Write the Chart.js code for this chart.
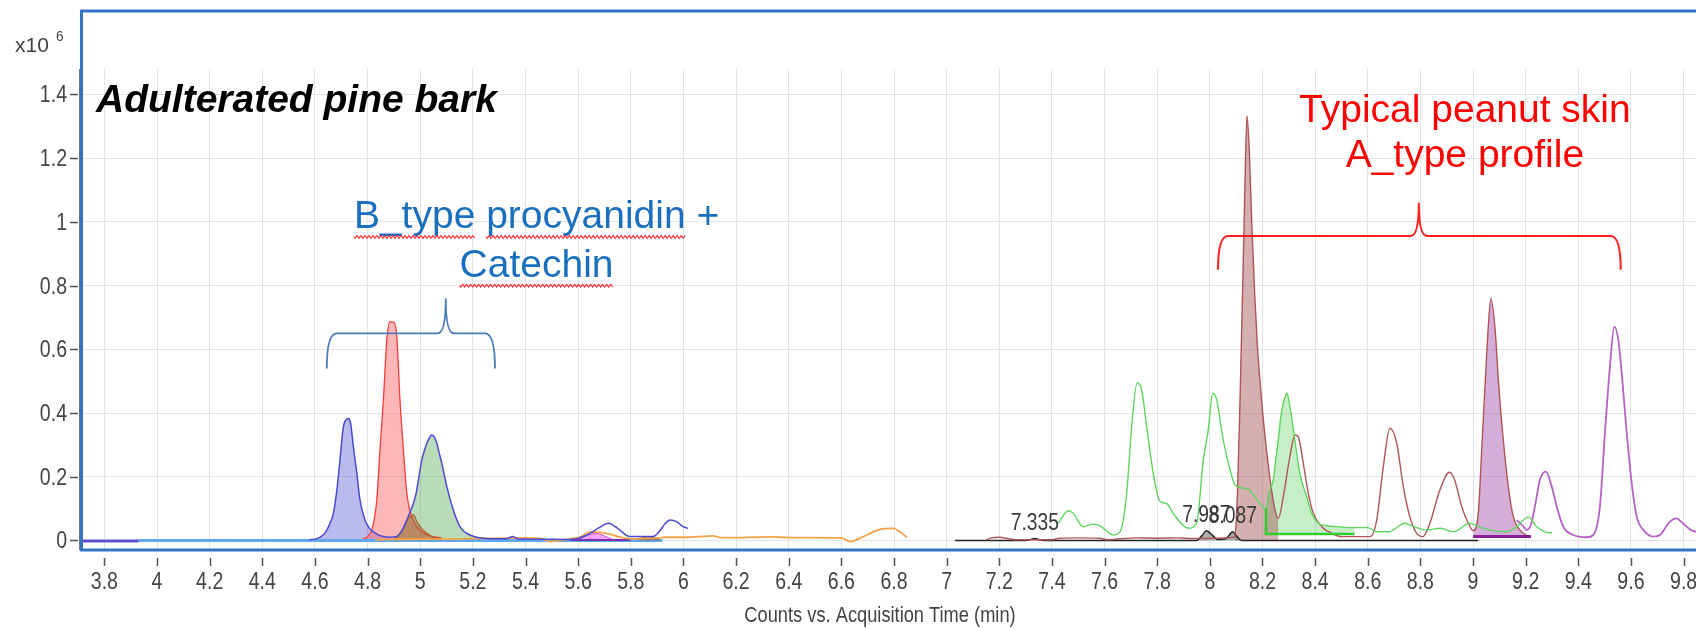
<!DOCTYPE html>
<html>
<head>
<meta charset="utf-8">
<title>Adulterated pine bark – chromatogram</title>
<script src="https://cdn.jsdelivr.net/npm/chart.js@4.4.1/dist/chart.umd.min.js"></script>
<style>
  html, body { margin: 0; padding: 0; background: #ffffff; overflow: hidden; }
  canvas { display: block; }
</style>
</head>
<body>
<canvas id="chrom" width="1696" height="629"></canvas>
<script>
// ---- axis ticks ----
const xTickValues = [3.8, 4, 4.2, 4.4, 4.6, 4.8, 5, 5.2, 5.4, 5.6, 5.8, 6, 6.2, 6.4, 6.6, 6.8, 7, 7.2, 7.4, 7.6, 7.8, 8, 8.2, 8.4, 8.6, 8.8, 9, 9.2, 9.4, 9.6, 9.8];
const xTickLabels = ['3.8', '4', '4.2', '4.4', '4.6', '4.8', '5', '5.2', '5.4', '5.6', '5.8', '6', '6.2', '6.4', '6.6', '6.8', '7', '7.2', '7.4', '7.6', '7.8', '8', '8.2', '8.4', '8.6', '8.8', '9', '9.2', '9.4', '9.6', '9.8'];
const yTickValues = [0, 0.2, 0.4, 0.6, 0.8, 1, 1.2, 1.4];
const yTickLabels = ['0', '0.2', '0.4', '0.6', '0.8', '1', '1.2', '1.4'];

// ---- traces: acquisition time (min) and counts (x10^6) ----
// early baselines
const baseDarkT = [3.707, 3.93];
const baseDarkY = [-0.002, -0.002];
const baseLightT = [3.93, 5.92];
const baseLightY = [0.0, 0.0];

// blue trace (two integrated peaks at 4.73 and 5.04, small bumps after)
const blueT = [4.58, 4.60, 4.62, 4.64, 4.655, 4.67, 4.685, 4.695, 4.708, 4.72, 4.727, 4.735, 4.746, 4.759, 4.771, 4.79, 4.81, 4.835, 4.86, 4.885, 4.911, 4.93, 4.949, 4.962, 4.974, 4.985, 4.993, 5.006, 5.015, 5.025, 5.035, 5.043, 5.053, 5.063, 5.072, 5.082, 5.101, 5.126, 5.151, 5.17, 5.189, 5.215, 5.24, 5.28, 5.33, 5.35, 5.37, 5.42, 5.48, 5.55, 5.6, 5.645, 5.68, 5.715, 5.75, 5.797, 5.84, 5.885, 5.91, 5.93, 5.949, 5.974, 5.999, 6.018];
const blueY = [0.002, 0.004, 0.01, 0.025, 0.05, 0.085, 0.17, 0.252, 0.357, 0.38, 0.383, 0.37, 0.294, 0.211, 0.127, 0.064, 0.035, 0.02, 0.012, 0.01, 0.012, 0.03, 0.064, 0.09, 0.116, 0.15, 0.19, 0.253, 0.28, 0.305, 0.322, 0.331, 0.325, 0.305, 0.275, 0.242, 0.169, 0.095, 0.043, 0.026, 0.017, 0.01, 0.007, 0.005, 0.006, 0.012, 0.005, 0.004, 0.004, 0.003, 0.006, 0.022, 0.04, 0.054, 0.038, 0.012, 0.012, 0.012, 0.03, 0.052, 0.064, 0.059, 0.043, 0.038];

// red peak at 4.89
const redT = [4.78, 4.80, 4.816, 4.826, 4.835, 4.847, 4.86, 4.873, 4.885, 4.90, 4.911, 4.923, 4.936, 4.949, 4.968, 4.985, 4.999, 5.02, 5.05, 5.08];
const redY = [0.003, 0.012, 0.033, 0.07, 0.127, 0.284, 0.441, 0.629, 0.687, 0.685, 0.64, 0.441, 0.284, 0.148, 0.074, 0.045, 0.033, 0.02, 0.012, 0.008];

// small brown peak at 4.97
const umberT = [4.90, 4.92, 4.94, 4.955, 4.974, 4.99, 5.01, 5.03, 5.05, 5.08];
const umberY = [0.005, 0.02, 0.045, 0.068, 0.08, 0.055, 0.033, 0.02, 0.01, 0.006];

// orange trace
const orangeT = [4.83, 4.9, 5.0, 5.1, 5.2, 5.303, 5.40, 5.46, 5.493, 5.53, 5.57, 5.61, 5.645, 5.68, 5.72, 5.76, 5.8, 5.85, 5.9, 5.936, 6.01, 6.06, 6.113, 6.14, 6.2, 6.27, 6.341, 6.4, 6.5, 6.601, 6.633, 6.671, 6.709, 6.747, 6.797, 6.823, 6.848];
const orangeY = [0.002, 0.003, 0.004, 0.004, 0.006, 0.007, 0.008, 0.006, -0.004, 0.0, 0.005, 0.012, 0.027, 0.025, 0.02, 0.01, 0.005, 0.006, 0.007, 0.01, 0.01, 0.012, 0.014, 0.009, 0.009, 0.01, 0.011, 0.009, 0.009, 0.008, -0.004, 0.007, 0.022, 0.035, 0.038, 0.027, 0.01];

// magenta and brown minor peaks near 5.6-5.9
const magentaT = [5.60, 5.63, 5.67, 5.70, 5.733];
const magentaY = [0.002, 0.015, 0.022, 0.014, 0.002];
const violetBaseT = [5.57, 5.80];
const violetBaseY = [0.001, 0.001];
const umber2T = [5.83, 5.85, 5.87, 5.89, 5.91];
const umber2Y = [0.003, 0.01, 0.011, 0.01, 0.003];

// black trace with labelled minor peaks
const peakRT = [7.335, 7.987, 8.087];
const blackT = [7.032, 7.30, 7.32, 7.335, 7.35, 7.37, 7.95, 7.97, 7.987, 8.005, 8.03, 8.06, 8.075, 8.087, 8.10, 8.12, 9.02];
const blackY = [0.0, 0.0, 0.003, 0.006, 0.003, 0.0, 0.0, 0.015, 0.03, 0.02, 0.003, 0.005, 0.018, 0.027, 0.015, 0.0, 0.0];

// brown trace: peaks at 8.14, 8.33, 8.68, 8.91, 9.07
const brownT = [7.15, 7.17, 7.20, 7.23, 7.26, 7.40, 7.43, 7.50, 7.58, 7.61, 7.66, 7.72, 7.80, 7.88, 7.93, 7.98, 8.03, 8.07, 8.095, 8.105, 8.115, 8.125, 8.133, 8.141, 8.15, 8.16, 8.17, 8.18, 8.19, 8.207, 8.226, 8.245, 8.26, 8.279, 8.304, 8.323, 8.336, 8.355, 8.374, 8.393, 8.425, 8.469, 8.5, 8.608, 8.634, 8.659, 8.684, 8.71, 8.735, 8.76, 8.786, 8.81, 8.836, 8.874, 8.91, 8.93, 8.957, 8.982, 9.001, 9.02, 9.033, 9.046, 9.058, 9.068, 9.084, 9.097, 9.115, 9.134, 9.153, 9.178, 9.21];
const brownY = [0.002, 0.008, 0.01, 0.006, 0.002, 0.002, 0.007, 0.008, 0.007, 0.002, 0.005, 0.008, 0.007, 0.008, 0.006, 0.006, 0.007, 0.008, 0.012, 0.15, 0.45, 0.8, 1.1, 1.333, 1.22, 0.98, 0.78, 0.62, 0.504, 0.347, 0.21, 0.106, 0.069, 0.137, 0.263, 0.331, 0.325, 0.242, 0.148, 0.085, 0.043, 0.02, 0.012, 0.012, 0.064, 0.231, 0.352, 0.305, 0.169, 0.074, 0.022, 0.012, 0.054, 0.158, 0.214, 0.19, 0.106, 0.054, 0.03, 0.085, 0.284, 0.493, 0.671, 0.76, 0.661, 0.493, 0.315, 0.169, 0.074, 0.033, 0.012];

// green trace: peaks at 7.46, 7.72, 8.01, 8.29
const greenT = [7.424, 7.462, 7.481, 7.519, 7.557, 7.583, 7.633, 7.659, 7.684, 7.703, 7.724, 7.741, 7.760, 7.785, 7.811, 7.836, 7.861, 7.918, 7.95, 7.975, 7.994, 8.011, 8.026, 8.051, 8.077, 8.096, 8.127, 8.151, 8.19, 8.213, 8.225, 8.241, 8.25, 8.26, 8.27, 8.279, 8.294, 8.30, 8.31, 8.323, 8.342, 8.368, 8.387, 8.412, 8.44, 8.46, 8.5, 8.55, 8.6, 8.634, 8.68, 8.741, 8.77, 8.824, 8.875, 8.926, 8.988, 9.03, 9.08, 9.128, 9.166, 9.21, 9.242, 9.292, 9.30];
const greenY = [0.054, 0.093, 0.085, 0.043, 0.051, 0.046, 0.017, 0.027, 0.148, 0.357, 0.495, 0.472, 0.357, 0.211, 0.122, 0.116, 0.085, 0.038, 0.054, 0.252, 0.347, 0.462, 0.441, 0.315, 0.221, 0.174, 0.164, 0.158, 0.116, 0.1, 0.15, 0.19, 0.25, 0.315, 0.39, 0.43, 0.462, 0.44, 0.39, 0.315, 0.21, 0.137, 0.085, 0.054, 0.047, 0.045, 0.042, 0.04, 0.04, 0.027, 0.027, 0.054, 0.045, 0.033, 0.038, 0.027, 0.054, 0.04, 0.03, 0.027, 0.043, 0.074, 0.043, 0.024, 0.024];

// purple trace: peaks at 9.28, 9.54, 9.77
const purpleT = [9.166, 9.19, 9.204, 9.22, 9.235, 9.254, 9.277, 9.299, 9.318, 9.343, 9.381, 9.432, 9.457, 9.482, 9.501, 9.52, 9.537, 9.552, 9.565, 9.584, 9.603, 9.622, 9.647, 9.685, 9.71, 9.748, 9.774, 9.79, 9.827, 9.85];
const purpleY = [0.064, 0.045, 0.033, 0.05, 0.106, 0.19, 0.216, 0.169, 0.106, 0.043, 0.017, 0.01, 0.017, 0.106, 0.336, 0.545, 0.671, 0.629, 0.525, 0.336, 0.179, 0.074, 0.033, 0.012, 0.017, 0.059, 0.069, 0.059, 0.033, 0.027];

// integration baselines
const greenBarT = [8.213, 8.213, 8.55];
const greenBarY = [0.1, 0.02, 0.02];
const purpleBarT = [9.0, 9.22];
const purpleBarY = [0.012, 0.012];

// ---- helpers ----
const pts = (T, Y) => T.map((t, i) => ({ x: t, y: Y[i] }));
const part = (T, Y, t0, t1) => pts(T, Y).filter(p => p.x >= t0 - 1e-9 && p.x <= t1 + 1e-9);

const SANS = "'Liberation Sans', Arial, Helvetica, sans-serif";

const line = (data, color, width, order) => ({
  data, borderColor: color, borderWidth: width, fill: false,
  pointRadius: 0, cubicInterpolationMode: 'monotone', order
});
const area = (data, bg, border, width, fillMode, order) => ({
  data, backgroundColor: bg, borderColor: border, borderWidth: width, fill: fillMode,
  pointRadius: 0, cubicInterpolationMode: 'monotone', order
});

const datasets = [
  line(pts(baseDarkT, baseDarkY), '#5a50cf', 3, 4),
  line(pts(baseLightT, baseLightY), '#62aaf0', 3, 4),
  area(part(blueT, blueY, 4.60, 4.885), 'rgba(90,90,215,0.42)', 'rgba(0,0,0,0)', 0, 'origin', 6),
  area(part(blueT, blueY, 4.911, 5.24), 'rgba(100,175,95,0.45)', 'rgba(0,0,0,0)', 0, 'origin', 6),
  area(pts(redT, redY), 'rgba(255,95,95,0.45)', '#ff3b3b', 1.3, 'origin', 5),
  area(pts(umberT, umberY), 'rgba(150,105,45,0.45)', '#b0622a', 1.2, 'origin', 3),
  line(pts(orangeT, orangeY), '#f6a347', 1.8, 2),
  line(pts(violetBaseT, violetBaseY), '#7a2fb0', 2, 3),
  area(pts(magentaT, magentaY), 'rgba(240,90,240,0.55)', '#e040e0', 1, 'origin', 3),
  area(pts(umber2T, umber2Y), 'rgba(150,90,40,0.6)', '#9a5a2a', 1, 'origin', 3),
  line(pts(blueT, blueY), '#4a4ad2', 1.5, 1),
  area(part(brownT, brownY, 8.095, 8.26), 'rgba(160,80,80,0.45)', 'rgba(0,0,0,0)', 0, 'origin', 6),
  area(part(greenT, greenY, 8.213, 8.55), 'rgba(80,205,80,0.32)', 'rgba(0,0,0,0)', 0, { value: 0.02 }, 6),
  area(part(brownT, brownY, 9.001, 9.21), 'rgba(165,85,175,0.48)', 'rgba(0,0,0,0)', 0, { value: 0.012 }, 6),
  area(pts(blackT, blackY), 'rgba(110,110,110,0.55)', '#222222', 1.5, 'origin', 4),
  line(pts(greenT, greenY), '#5fd65f', 1.4, 1),
  line(pts(brownT, brownY), '#b05555', 1.4, 1),
  line(pts(purpleT, purpleY), '#b662c6', 1.8, 1),
  { data: pts(greenBarT, greenBarY), borderColor: '#33cc33', borderWidth: 2.5, pointRadius: 0, fill: false, tension: 0, order: 0 },
  { data: pts(purpleBarT, purpleBarY), borderColor: '#8a1f9a', borderWidth: 3, pointRadius: 0, fill: false, tension: 0, order: 0 }
];

// ---- annotations (data coordinates) ----
const notes = [
  { lines: ['B_type procyanidin +', 'Catechin'], x: 5.442, y: [0.981, 0.828], color: '#1a6fbf',
    squiggle: [['B_type', 'procyanidin'], ['Catechin']] },
  { lines: ['Typical peanut skin', 'A_type profile'], x: 8.969, y: [1.315, 1.173], color: '#ff0000', squiggle: null }
];
const braces = [
  { x1: 4.645, x2: 5.284, xc: 5.097, yH: 0.650, yEnd: 0.540, yTop: 0.760, color: '#4a7cba', width: 1.8 },
  { x1: 8.031, x2: 9.561, xc: 8.794, yH: 0.956, yEnd: 0.850, yTop: 1.060, color: '#ff1e1e', width: 2 }
];

function wavy(ctx, x0, x1, y) {
  ctx.beginPath();
  for (let t = x0; t <= x1; t += 1) {
    const yy = y + 1.3 * Math.sin((t - x0) * Math.PI / 2);
    if (t === x0) ctx.moveTo(t, yy); else ctx.lineTo(t, yy);
  }
  ctx.stroke();
}

// condensed text, as drawn by the acquisition software
function narrowText(ctx, text, x, y, align, size, squeeze) {
  ctx.save();
  ctx.font = `${size}px ${SANS}`;
  ctx.textAlign = align;
  ctx.textBaseline = 'alphabetic';
  ctx.translate(x, y);
  ctx.scale(squeeze, 1);
  ctx.fillText(text, 0, 0);
  ctx.restore();
}

const decor = {
  id: 'decor',
  afterDraw(chart) {
    const { ctx, chartArea: a, scales: { x, y } } = chart;
    ctx.save();

    // tick marks and tick labels
    ctx.strokeStyle = '#555555';
    ctx.lineWidth = 1.5;
    ctx.beginPath();
    xTickValues.forEach(v => {
      const px = Math.round(x.getPixelForValue(v)) + 0.5;
      ctx.moveTo(px, a.bottom + 8); ctx.lineTo(px, a.bottom + 16);
    });
    yTickValues.forEach(v => {
      const py = Math.round(y.getPixelForValue(v)) + 0.5;
      ctx.moveTo(a.left - 10, py); ctx.lineTo(a.left - 2, py);
    });
    ctx.stroke();
    ctx.fillStyle = '#444444';
    xTickValues.forEach((v, i) => narrowText(ctx, xTickLabels[i], x.getPixelForValue(v), a.bottom + 39, 'center', 23, 0.85));
    yTickValues.forEach((v, i) => narrowText(ctx, yTickLabels[i], a.left - 13, y.getPixelForValue(v) + 8, 'right', 23, 0.85));

    ctx.strokeStyle = '#777777';
    ctx.lineWidth = 1;
    ctx.beginPath();
    ctx.moveTo(a.left - 0.5, a.top); ctx.lineTo(a.left - 0.5, a.bottom);
    ctx.stroke();

    // plot frame
    ctx.strokeStyle = '#3573c8';
    ctx.lineWidth = 3;
    ctx.beginPath();
    ctx.moveTo(a.left + 1.5, a.bottom);
    ctx.lineTo(a.left + 1.5, 11);
    ctx.lineTo(chart.width + 4, 11);
    ctx.stroke();
    ctx.beginPath();
    ctx.moveTo(a.left, a.bottom);
    ctx.lineTo(chart.width + 4, a.bottom);
    ctx.stroke();

    // exponent and axis title
    ctx.fillStyle = '#444444';
    narrowText(ctx, 'x10', 15, 52, 'left', 21, 1);
    narrowText(ctx, '6', 56, 41, 'left', 15, 0.9);
    narrowText(ctx, 'Counts vs. Acquisition Time (min)', 880, 622, 'center', 22, 0.83);

    // sample name
    ctx.fillStyle = '#000000';
    ctx.textAlign = 'left';
    ctx.textBaseline = 'alphabetic';
    ctx.font = `italic bold 39px ${SANS}`;
    ctx.fillText('Adulterated pine bark', 96, 112);

    // peak retention-time labels
    ctx.fillStyle = '#3a3a3a';
    peakRT.forEach(rt => {
      const i = blackT.indexOf(rt);
      const px = x.getPixelForValue(rt);
      const py = y.getPixelForValue(blackY[i]);
      narrowText(ctx, rt.toFixed(3), px, py - 9, 'center', 23, 0.84);
    });

    // braces
    braces.forEach(b => {
      const x1 = x.getPixelForValue(b.x1), x2 = x.getPixelForValue(b.x2), xc = x.getPixelForValue(b.xc);
      const yH = y.getPixelForValue(b.yH), yE = y.getPixelForValue(b.yEnd), yT = y.getPixelForValue(b.yTop);
      const r = 10;
      ctx.strokeStyle = b.color;
      ctx.lineWidth = b.width;
      ctx.beginPath();
      ctx.moveTo(x1, yE);
      ctx.quadraticCurveTo(x1, yH, x1 + r, yH);
      ctx.lineTo(xc - 8, yH);
      ctx.quadraticCurveTo(xc, yH, xc, yT);
      ctx.quadraticCurveTo(xc, yH, xc + 8, yH);
      ctx.lineTo(x2 - r, yH);
      ctx.quadraticCurveTo(x2, yH, x2, yE);
      ctx.stroke();
    });

    // annotation text
    ctx.font = `39px ${SANS}`;
    ctx.textAlign = 'center';
    notes.forEach(n => {
      const cx = x.getPixelForValue(n.x);
      n.lines.forEach((txt, k) => {
        const by = y.getPixelForValue(n.y[k]);
        ctx.fillStyle = n.color;
        ctx.fillText(txt, cx, by);
        if (n.squiggle) {
          const full = ctx.measureText(txt).width;
          const left = cx - full / 2;
          ctx.strokeStyle = '#ff2a2a';
          ctx.lineWidth = 1.1;
          n.squiggle[k].forEach(word => {
            const start = txt.indexOf(word);
            const wx = left + ctx.measureText(txt.slice(0, start)).width;
            const ww = ctx.measureText(word).width;
            wavy(ctx, wx, wx + ww, by + 9);
          });
        }
      });
    });
    ctx.restore();
  }
};

new Chart(document.getElementById('chrom'), {
  type: 'line',
  data: { datasets },
  options: {
    responsive: false,
    devicePixelRatio: 1,
    animation: false,
    events: [],
    layout: { padding: { top: 69, left: 0, right: 0, bottom: 0 } },
    plugins: { legend: { display: false }, tooltip: { enabled: false }, title: { display: false } },
    scales: {
      x: {
        type: 'linear', min: 3.7073, max: 9.8471,
        afterBuildTicks: s => { s.ticks = xTickValues.map(v => ({ value: v })); },
        afterFit: s => { s.height = 79; s.paddingLeft = 0; s.paddingRight = 0; },
        grid: { color: '#e4e4e4', lineWidth: 1, drawTicks: false },
        border: { display: false },
        ticks: { display: false }
      },
      y: {
        type: 'linear', min: -0.0301, max: 1.480,
        afterBuildTicks: s => { s.ticks = yTickValues.map(v => ({ value: v })); },
        afterFit: s => { s.width = 80; s.paddingTop = 0; s.paddingBottom = 0; },
        grid: { color: '#e4e4e4', lineWidth: 1, drawTicks: false },
        border: { display: false },
        ticks: { display: false }
      }
    }
  },
  plugins: [decor]
});
</script>
</body>
</html>
